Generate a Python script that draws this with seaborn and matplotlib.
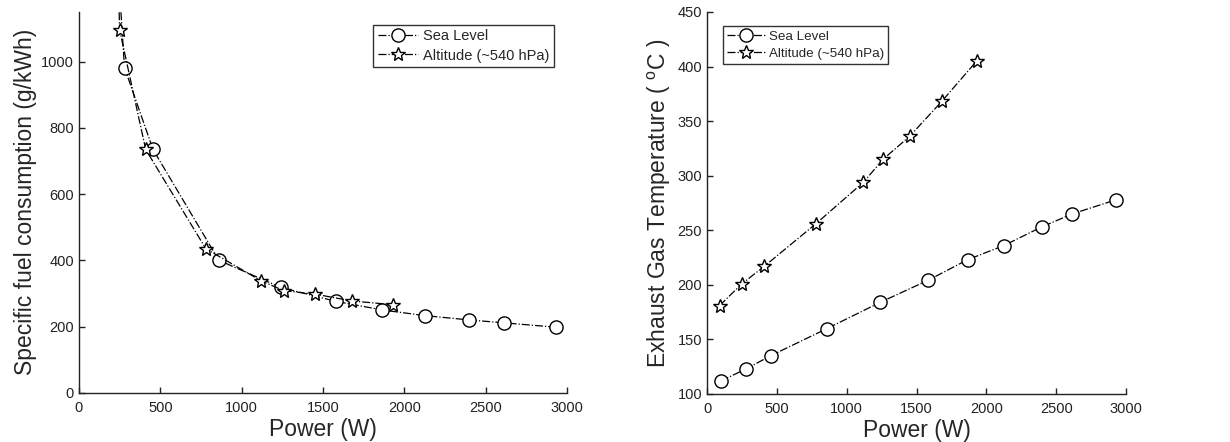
import numpy as np
import pandas as pd
import matplotlib
matplotlib.use("Agg")
import matplotlib.pyplot as plt
import seaborn as sns

# Sea level runs (power in W)
sea_power = [100, 280, 455, 860, 1240, 1580, 1865, 2125, 2395, 2615, 2930]
sea_sfc = [2350, 982, 735, 400, 318, 276, 250, 233, 220, 211, 198]
sea_egt = [112, 123, 135, 160, 184, 204, 223, 236, 253, 265, 278]

# Altitude runs (~540 hPa)
alt_power = [90, 250, 410, 780, 1120, 1260, 1450, 1680, 1930]
alt_sfc = [4000, 1096, 735, 435, 338, 308, 298, 277, 266]
alt_egt = [181, 201, 217, 256, 294, 315, 336, 368, 405]

sea_label = "Sea Level"
alt_label = "Altitude (~540 hPa)"

sns.set_style("ticks")
plt.rcParams["font.family"] = ["Liberation Sans", "DejaVu Sans"]
plt.rcParams["mathtext.fontset"] = "custom"
plt.rcParams["mathtext.rm"] = "Liberation Sans"

fig = plt.figure(figsize=(12.3, 4.42), dpi=100)
ax1 = fig.add_axes([0.0642, 0.1115, 0.3967, 0.8613])
ax2 = fig.add_axes([0.5748, 0.1086, 0.3407, 0.8643])

line_kw = dict(color="k", linestyle="-.", linewidth=0.9, markerfacecolor="white",
               markeredgecolor="k", markeredgewidth=1.0, sort=False, estimator=None)


def draw(ax, y_sea, y_alt, anchor, fs):
    sns.lineplot(x=sea_power, y=y_sea, ax=ax, marker="o", markersize=9.5,
                 label=sea_label, **line_kw)
    sns.lineplot(x=alt_power, y=y_alt, ax=ax, marker="*", markersize=10,
                 label=alt_label, **line_kw)
    ax.set_xlim(0, 3000)
    ax.set_xticks(np.arange(0, 3001, 500))
    for side in ["top", "right"]:
        ax.spines[side].set_visible(False)
    for side in ["left", "bottom"]:
        ax.spines[side].set_linewidth(1.0)
        ax.spines[side].set_color("#222222")
    ax.tick_params(direction="in", length=4, width=1.0, labelsize=10.5,
                   colors="#222222")
    ax.tick_params(axis="x", pad=6)
    ax.set_xlabel("Power (W)", fontsize=16.5, labelpad=2)
    leg = ax.legend(fontsize=fs, frameon=True, fancybox=False, edgecolor="k",
                    handlelength=2.8, borderpad=0.3, labelspacing=0.35,
                    handletextpad=0.3, loc="upper left",
                    bbox_to_anchor=anchor)
    leg.get_frame().set_linewidth(1.0)
    return leg


draw(ax1, sea_sfc, alt_sfc, (0.588, 0.985), 10.5)
ax1.set_ylim(0, 1150)
ax1.set_yticks(np.arange(0, 1001, 200))
ax1.set_ylabel("Specific fuel consumption (g/kWh)", fontsize=16.5, labelpad=3)

draw(ax2, sea_egt, alt_egt, (0.023, 0.98), 9.6)
ax2.set_ylim(100, 450)
ax2.set_yticks(np.arange(100, 451, 50))
ax2.set_ylabel(r"Exhaust Gas Temperature ( $^{\mathrm{o}}$C )", fontsize=16.5, labelpad=3)

fig.savefig("out.png", dpi=100)
